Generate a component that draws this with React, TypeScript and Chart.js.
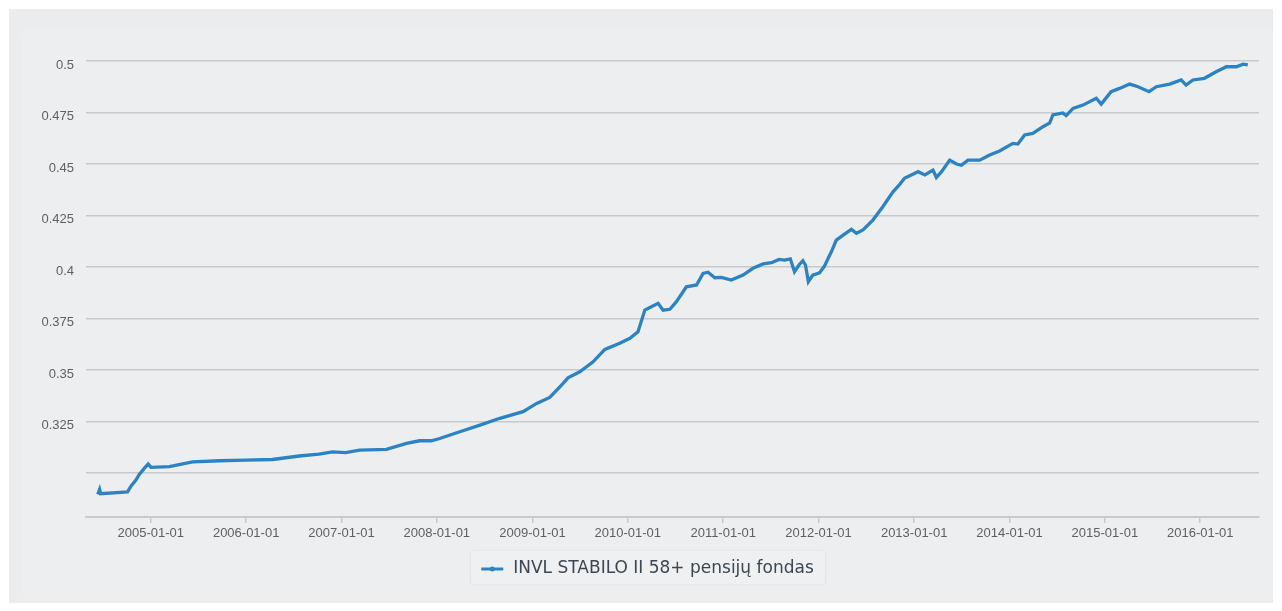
import React, { useEffect, useRef } from "react";
import { Chart, registerables } from "chart.js";

Chart.register(...registerables);

const seriesName = "INVL STABILO II 58+ pensijų fondas";

const dates = [
  "2004-06-12", "2004-06-19", "2004-06-23", "2004-10-04", "2004-10-17", "2004-11-05", "2004-11-18", "2004-12-07",
  "2004-12-22", "2005-01-02", "2005-03-13", "2005-06-10", "2005-09-20", "2005-12-31", "2006-04-12", "2006-07-23",
  "2006-10-07", "2006-11-27", "2007-01-17", "2007-03-11", "2007-06-22", "2007-09-07", "2007-10-27", "2007-12-11",
  "2008-01-12", "2008-03-29", "2008-06-14", "2008-08-29", "2008-11-26", "2009-01-17", "2009-03-08", "2009-04-16",
  "2009-05-17", "2009-07-01", "2009-08-21", "2009-10-05", "2009-12-01", "2010-01-09", "2010-02-09", "2010-03-07",
  "2010-04-01", "2010-04-27", "2010-05-16", "2010-06-11", "2010-07-06", "2010-08-13", "2010-09-21", "2010-10-16",
  "2010-11-04", "2010-11-30", "2010-12-25", "2011-02-01", "2011-03-18", "2011-04-25", "2011-06-03", "2011-07-05",
  "2011-08-03", "2011-08-24", "2011-09-15", "2011-10-01", "2011-10-18", "2011-11-02", "2011-11-12", "2011-11-23",
  "2011-12-10", "2012-01-05", "2012-01-24", "2012-02-19", "2012-03-09", "2012-04-04", "2012-05-06", "2012-05-25",
  "2012-06-19", "2012-07-27", "2012-09-03", "2012-10-12", "2012-11-06", "2012-11-25", "2013-01-16", "2013-02-11",
  "2013-03-14", "2013-03-27", "2013-04-16", "2013-05-17", "2013-06-12", "2013-07-01", "2013-07-26", "2013-09-09",
  "2013-10-17", "2013-11-24", "2014-01-14", "2014-02-02", "2014-02-28", "2014-03-31", "2014-05-09", "2014-06-04",
  "2014-06-16", "2014-07-24", "2014-08-06", "2014-09-01", "2014-10-09", "2014-11-29", "2014-12-18", "2015-01-25",
  "2015-02-26", "2015-04-06", "2015-05-08", "2015-06-19", "2015-07-17", "2015-09-06", "2015-10-20", "2015-11-08",
  "2015-12-04", "2016-01-17", "2016-03-02", "2016-04-10", "2016-05-18", "2016-06-13", "2016-07-01",
];

const values = [
  0.2897, 0.2921, 0.29, 0.2909, 0.2937, 0.2966, 0.2994, 0.3023,
  0.3044, 0.3028, 0.3031, 0.3055, 0.306, 0.3063, 0.3066, 0.3083,
  0.3092, 0.3103, 0.3099, 0.3112, 0.3115, 0.3144, 0.3157, 0.3157,
  0.3168, 0.3201, 0.3233, 0.3266, 0.3298, 0.3338, 0.3367, 0.3419,
  0.3462, 0.3492, 0.354, 0.36, 0.363, 0.3654, 0.3686, 0.3791,
  0.3807, 0.3824, 0.3791, 0.3795, 0.3832, 0.3904, 0.3913, 0.3969,
  0.3975, 0.3948, 0.395, 0.3937, 0.3961, 0.3994, 0.4015, 0.4021,
  0.4037, 0.4034, 0.404, 0.3977, 0.401, 0.4031, 0.401, 0.3929,
  0.3961, 0.3972, 0.4005, 0.4074, 0.4131, 0.4155, 0.4183, 0.4164,
  0.418, 0.4228, 0.4293, 0.4365, 0.44, 0.4431, 0.4463, 0.4447,
  0.4471, 0.4435, 0.4463, 0.4519, 0.45, 0.4494, 0.4519, 0.4519,
  0.4544, 0.4563, 0.46, 0.4597, 0.4641, 0.4649, 0.4681, 0.47,
  0.4738, 0.4748, 0.4735, 0.477, 0.4786, 0.4819, 0.4791, 0.4851,
  0.4867, 0.4888, 0.4875, 0.4851, 0.4875, 0.4888, 0.4908, 0.4883,
  0.4908, 0.4916, 0.4948, 0.4972, 0.4972, 0.4985, 0.4981,
];

const xTickLabels = [
  "2005-01-01", "2006-01-01", "2007-01-01", "2008-01-01", "2009-01-01", "2010-01-01",
  "2011-01-01", "2012-01-01", "2013-01-01", "2014-01-01", "2015-01-01", "2016-01-01",
];
const xRange = ["2004-04-28", "2016-08-13"];

const yTickValues = [0.3, 0.325, 0.35, 0.375, 0.4, 0.425, 0.45, 0.475, 0.5];
const yTickLabels = ["", "0.325", "0.35", "0.375", "0.4", "0.425", "0.45", "0.475", "0.5"];
const yRange = [0.2787, 0.5];

const ts = (s: string) => {
  const [y, m, d] = s.split("-").map(Number);
  return Date.UTC(y, m - 1, d);
};

const LINE_COLOR = "#2b83c6";

const legendPlugin = {
  id: "customLegend",
  afterDraw(chart: any) {
    const ctx = chart.ctx as CanvasRenderingContext2D;
    ctx.save();
    ctx.font = '17px "DejaVu Sans"';
    const tw = ctx.measureText(seriesName).width;
    const padL = 11, markerW = 22, gap = 10, padR = 12;
    const boxW = padL + markerW + gap + tw + padR;
    const boxH = 35;
    const bx = chart.width / 2 - boxW / 2;
    const by = 522;
    const r = 5;
    ctx.beginPath();
    ctx.moveTo(bx + r, by);
    ctx.lineTo(bx + boxW - r, by);
    ctx.quadraticCurveTo(bx + boxW, by, bx + boxW, by + r);
    ctx.lineTo(bx + boxW, by + boxH - r);
    ctx.quadraticCurveTo(bx + boxW, by + boxH, bx + boxW - r, by + boxH);
    ctx.lineTo(bx + r, by + boxH);
    ctx.quadraticCurveTo(bx, by + boxH, bx, by + boxH - r);
    ctx.lineTo(bx, by + r);
    ctx.quadraticCurveTo(bx, by, bx + r, by);
    ctx.closePath();
    ctx.fillStyle = "#eef0f2";
    ctx.fill();
    ctx.strokeStyle = "#e2e4e7";
    ctx.lineWidth = 1;
    ctx.stroke();
    const my = by + boxH / 2 + 1.5;
    ctx.beginPath();
    ctx.moveTo(bx + padL, my);
    ctx.lineTo(bx + padL + markerW, my);
    ctx.strokeStyle = LINE_COLOR;
    ctx.lineWidth = 3;
    ctx.stroke();
    ctx.beginPath();
    ctx.arc(bx + padL + markerW / 2, my, 2.5, 0, Math.PI * 2);
    ctx.fillStyle = LINE_COLOR;
    ctx.fill();
    ctx.fillStyle = "#3c4654";
    ctx.textBaseline = "middle";
    ctx.textAlign = "left";
    ctx.fillText(seriesName, bx + padL + markerW + gap, by + boxH / 2 + 1);
    ctx.restore();
  },
};

export default function App() {
  const canvasRef = useRef<HTMLCanvasElement | null>(null);

  useEffect(() => {
    if (!canvasRef.current) return;
    const chart = new Chart(canvasRef.current, {
      type: "line",
      data: {
        datasets: [
          {
            label: seriesName,
            data: dates.map((d, i) => ({ x: ts(d), y: values[i] })),
            borderColor: LINE_COLOR,
            borderWidth: 3.3,
            pointRadius: 0,
            tension: 0,
            fill: false,
          },
        ],
      },
      options: {
        animation: false,
        responsive: true,
        maintainAspectRatio: false,
        layout: { padding: { top: 33, right: 14, left: 0, bottom: 55 } },
        plugins: {
          legend: { display: false },
          tooltip: { enabled: false },
        },
        scales: {
          x: {
            type: "linear",
            min: ts(xRange[0]),
            max: ts(xRange[1]),
            afterBuildTicks: (scale: any) => {
              scale.ticks = xTickLabels.map((l) => ({ value: ts(l) }));
            },
            afterFit: (scale: any) => {
              scale.height = 28;
            },
            ticks: {
              callback: (_v: any, i: number) => xTickLabels[i],
              maxRotation: 0,
              autoSkip: false,
              padding: 3,
              color: "#606060",
              font: { family: '"Liberation Sans", Arial, sans-serif', size: 13 },
            },
            grid: {
              drawOnChartArea: false,
              drawTicks: true,
              tickLength: 6,
              color: "#c8c9cc",
              lineWidth: 1.5,
            },
            border: { display: true, color: "#c8c9cc", width: 2 },
          },
          y: {
            type: "linear",
            min: yRange[0],
            max: yRange[1],
            afterBuildTicks: (scale: any) => {
              scale.ticks = yTickValues.map((v) => ({ value: v }));
            },
            afterFit: (scale: any) => {
              scale.width = 63;
            },
            ticks: {
              callback: (_v: any, i: number) => yTickLabels[i],
              padding: 12,
              labelOffset: 4,
              color: "#606060",
              font: { family: '"Liberation Sans", Arial, sans-serif', size: 13 },
            },
            grid: {
              drawTicks: false,
              color: "#c8c9cc",
              lineWidth: 1.5,
            },
            border: { display: false },
          },
        },
      },
      plugins: [legendPlugin],
    });
    return () => chart.destroy();
  }, []);

  return (
    <div
      style={{
        position: "absolute",
        left: 9,
        top: 9,
        width: 1264,
        height: 594,
        background: "#ebecee",
      }}
    >
      <div
        style={{
          position: "absolute",
          left: 14,
          top: 19,
          width: 1250,
          height: 572,
          background: "#edeef0",
          borderRadius: 6,
        }}
      >
        <canvas ref={canvasRef} />
      </div>
    </div>
  );
}
